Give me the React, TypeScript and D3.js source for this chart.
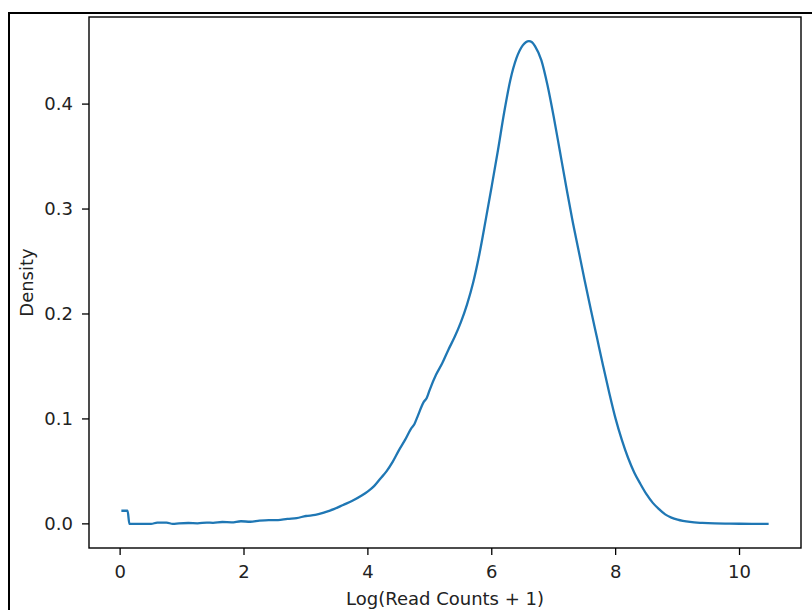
import React from "react";
import * as d3 from "d3";

// log(read count + 1) on x, KDE density on y
const logCounts = [
  0.02, 0.12, 0.15, 0.3, 0.5, 0.6, 0.75, 0.85, 0.95, 1.1, 1.25, 1.4, 1.5, 1.65, 1.8, 1.95,
  2.1, 2.25, 2.4, 2.55, 2.7, 2.85, 3.0, 3.15, 3.3, 3.45, 3.6, 3.75, 3.9, 4.0, 4.1, 4.2,
  4.3, 4.4, 4.5, 4.6, 4.7, 4.75, 4.8, 4.9, 4.95, 5.0, 5.1, 5.2, 5.3, 5.4, 5.5, 5.6, 5.7,
  5.8, 5.9, 6.0, 6.1, 6.2, 6.3, 6.4, 6.5, 6.55, 6.6, 6.65, 6.7, 6.8, 6.9, 7.0, 7.1, 7.2,
  7.3, 7.4, 7.5, 7.6, 7.7, 7.8, 7.9, 8.0, 8.1, 8.2, 8.3, 8.4, 8.5, 8.6, 8.7, 8.8, 8.9,
  9.0, 9.2, 9.4, 9.6, 9.8, 10.0, 10.2, 10.47,
];
const density = [
  0.0125, 0.0125, 0.0, 0.0, 0.0, 0.0012, 0.0012, 0.0, 0.0005, 0.0008, 0.0005, 0.0012, 0.001,
  0.0018, 0.0015, 0.0025, 0.002, 0.003, 0.0035, 0.0035, 0.0048, 0.0055, 0.0075, 0.0085, 0.011,
  0.014, 0.018, 0.022, 0.027, 0.031, 0.036, 0.043, 0.05, 0.059, 0.07, 0.08, 0.091, 0.095,
  0.102, 0.116, 0.12, 0.128, 0.142, 0.153, 0.166, 0.178, 0.192, 0.209, 0.23, 0.257, 0.289,
  0.322, 0.356, 0.392, 0.423, 0.444, 0.456, 0.459, 0.46, 0.459, 0.455, 0.442, 0.418, 0.388,
  0.355, 0.322, 0.29, 0.261, 0.232, 0.204, 0.177, 0.15, 0.124, 0.1, 0.08, 0.063, 0.049,
  0.038, 0.028, 0.02, 0.014, 0.009, 0.006, 0.004, 0.0018, 0.0009, 0.0004, 0.0002, 0.0001,
  0.0, 0.0,
];
const xTicks = [0, 2, 4, 6, 8, 10];
const yTicks = [0.0, 0.1, 0.2, 0.3, 0.4];

const W = 812,
  H = 610;
const frame = { left: 89, top: 17, right: 801, bottom: 548 };
const font = "DejaVu Sans, sans-serif";

export default function App() {
  const points = logCounts.map((x, i) => ({ x, y: density[i] }));

  // matplotlib style 5% padding around data extent
  const xExt = d3.extent(logCounts) as [number, number];
  const yMax = d3.max(density) as number;
  const xPad = (xExt[1] - xExt[0]) * 0.05;
  const yPad = yMax * 0.05;

  const xScale = d3
    .scaleLinear()
    .domain([xExt[0] - xPad, xExt[1] + xPad])
    .range([frame.left, frame.right]);
  const yScale = d3
    .scaleLinear()
    .domain([-yPad, yMax + yPad])
    .range([frame.bottom, frame.top]);

  const line = d3
    .line<{ x: number; y: number }>()
    .curve(d3.curveMonotoneX)
    .x((d) => xScale(d.x))
    .y((d) => yScale(d.y));

  return (
    <svg width={W} height={H} style={{ display: "block" }}>
      <style>{`body{margin:0}`}</style>
      <rect x={0} y={0} width={W} height={H} fill="#fff" />
      {/* outer figure border, cut off at right and bottom */}
      <rect x={9} y={13} width={W + 10} height={H + 10} fill="none" stroke="#000" strokeWidth={2} />

      <path d={line(points) ?? ""} fill="none" stroke="#1f77b4" strokeWidth={2.3} strokeLinejoin="round" />

      <rect
        x={frame.left}
        y={frame.top}
        width={frame.right - frame.left}
        height={frame.bottom - frame.top}
        fill="none"
        stroke="#000"
        strokeWidth={1.4}
      />

      {xTicks.map((t) => (
        <g key={"x" + t} transform={`translate(${xScale(t)},${frame.bottom})`}>
          <line y1={0} y2={7} stroke="#000" strokeWidth={1.3} />
          <text y={30} textAnchor="middle" fontFamily={font} fontSize={18} fill="#222">
            {t}
          </text>
        </g>
      ))}
      {yTicks.map((t) => (
        <g key={"y" + t} transform={`translate(${frame.left},${yScale(t)})`}>
          <line x1={0} x2={-7} stroke="#000" strokeWidth={1.3} />
          <text x={-16} dy="0.35em" textAnchor="end" fontFamily={font} fontSize={18} fill="#222">
            {t.toFixed(1)}
          </text>
        </g>
      ))}

      <text
        x={(frame.left + frame.right) / 2}
        y={605}
        textAnchor="middle"
        fontFamily={font}
        fontSize={18}
        fill="#222"
      >
        Log(Read Counts + 1)
      </text>
      <text
        transform={`translate(33,${(frame.top + frame.bottom) / 2}) rotate(-90)`}
        textAnchor="middle"
        fontFamily={font}
        fontSize={18}
        fill="#222"
      >
        Density
      </text>
    </svg>
  );
}
